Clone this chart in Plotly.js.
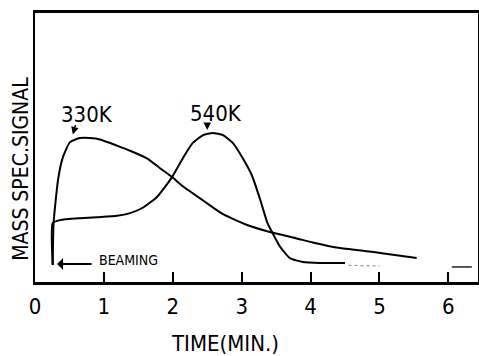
<!DOCTYPE html>
<html>
<head>
<meta charset="utf-8">
<script src="https://cdn.plot.ly/plotly-3.0.1.min.js"></script>
<style>html,body{margin:0;padding:0;background:#fff;}#chart{width:479px;height:356px;}</style>
</head>
<body>
<div id="chart"></div>
<script>
// Time in minutes
var time330 = [0.257, 0.27, 0.334, 0.406, 0.508, 0.653, 0.798, 0.943, 1.19, 1.38, 1.63, 1.81, 1.99, 2.15, 2.44, 2.73, 3.08, 3.41, 3.80, 4.03, 4.43, 5.01, 5.54];
var signal330 = [0.063, 0.22, 0.379, 0.465, 0.520, 0.535, 0.535, 0.530, 0.507, 0.488, 0.459, 0.424, 0.390, 0.355, 0.303, 0.252, 0.212, 0.186, 0.162, 0.147, 0.126, 0.108, 0.089];

var time540 = [0.257, 0.257, 0.363, 0.653, 0.90, 1.19, 1.38, 1.57, 1.77, 1.99, 2.15, 2.29, 2.44, 2.58, 2.73, 2.87, 3.02, 3.15, 3.27, 3.37, 3.44, 3.56, 3.70, 3.89, 4.14, 4.50];
var signal540 = [0.063, 0.219, 0.230, 0.237, 0.241, 0.246, 0.256, 0.277, 0.316, 0.390, 0.462, 0.517, 0.546, 0.554, 0.546, 0.517, 0.458, 0.395, 0.305, 0.222, 0.186, 0.130, 0.089, 0.074, 0.071, 0.071];

var tailTimeFaint = [4.55, 5.0];
var tailSignalFaint = [0.062, 0.060];
var tailTimeEnd = [6.05, 6.34];
var tailSignalEnd = [0.056, 0.056];

var xTicks = [0, 1, 2, 3, 4, 5, 6];
var xTickLabels = ['0', '1', '2', '3', '4', '5', '6'];

var FONT = '"DejaVu Sans Condensed", "Liberation Sans Narrow", "DejaVu Sans", sans-serif';

var traces = [
  {x: time330, y: signal330, mode: 'lines', name: '330K', line: {color: '#000', width: 2, shape: 'spline', smoothing: 0.5}},
  {x: time540, y: signal540, mode: 'lines', name: '540K', line: {color: '#000', width: 2, shape: 'spline', smoothing: 0.5}},
  {x: tailTimeFaint, y: tailSignalFaint, mode: 'lines', name: 'tail', line: {color: '#999', width: 1.2, dash: 'dot'}},
  {x: tailTimeEnd, y: tailSignalEnd, mode: 'lines', name: 'tail end', line: {color: '#222', width: 1.5}}
];

var layout = {
  width: 479, height: 356,
  margin: {l: 35, r: 1, t: 13, b: 74},
  paper_bgcolor: '#fff', plot_bgcolor: '#fff',
  showlegend: false,
  font: {family: FONT, color: '#000'},
  xaxis: {
    range: [0, 6.43],
    tickvals: xTicks, ticktext: xTickLabels,
    ticks: 'inside', ticklen: 10, tickwidth: 2, tickcolor: '#000',
    tickfont: {size: 22, family: FONT},
    ticklabelstandoff: 3,
    showline: true, linewidth: 3, linecolor: '#000', mirror: true,
    showgrid: false, zeroline: false
  },
  yaxis: {
    range: [0, 1],
    showticklabels: false, ticks: '',
    showline: true, linewidth: 2.5, linecolor: '#000', mirror: true,
    showgrid: false, zeroline: false
  },
  annotations: [
    {xref: 'paper', yref: 'paper', x: -0.032, y: 0.42, text: 'MASS SPEC.SIGNAL', textangle: -90,
     showarrow: false, font: {size: 21, family: FONT}, xanchor: 'center', yanchor: 'middle'},
    {xref: 'paper', yref: 'paper', x: 0.429, y: -0.23, text: 'TIME(MIN.)',
     showarrow: false, font: {size: 22, family: FONT}, xanchor: 'center', yanchor: 'middle'},
    {x: 0.75, y: 0.621, text: '330K', showarrow: false, font: {size: 22, family: FONT}},
    {x: 0.55, y: 0.548, text: '', showarrow: true, arrowhead: 2, arrowsize: 1, arrowwidth: 1.5,
     arrowcolor: '#000', ax: 3, ay: -11},
    {x: 2.63, y: 0.625, text: '540K', showarrow: false, font: {size: 22, family: FONT}},
    {x: 2.50, y: 0.565, text: '', showarrow: true, arrowhead: 2, arrowsize: 1, arrowwidth: 1.5,
     arrowcolor: '#000', ax: 0, ay: -8},
    {x: 1.35, y: 0.082, text: 'BEAMING', showarrow: false, font: {size: 14, family: FONT}},
    {x: 0.32, y: 0.067, text: '', showarrow: true, arrowhead: 1, arrowsize: 1, arrowwidth: 2,
     arrowcolor: '#000', ax: 36, ay: 0}
  ]
};

Plotly.newPlot('chart', traces, layout, {displayModeBar: false, staticPlot: true});
</script>
</body>
</html>
